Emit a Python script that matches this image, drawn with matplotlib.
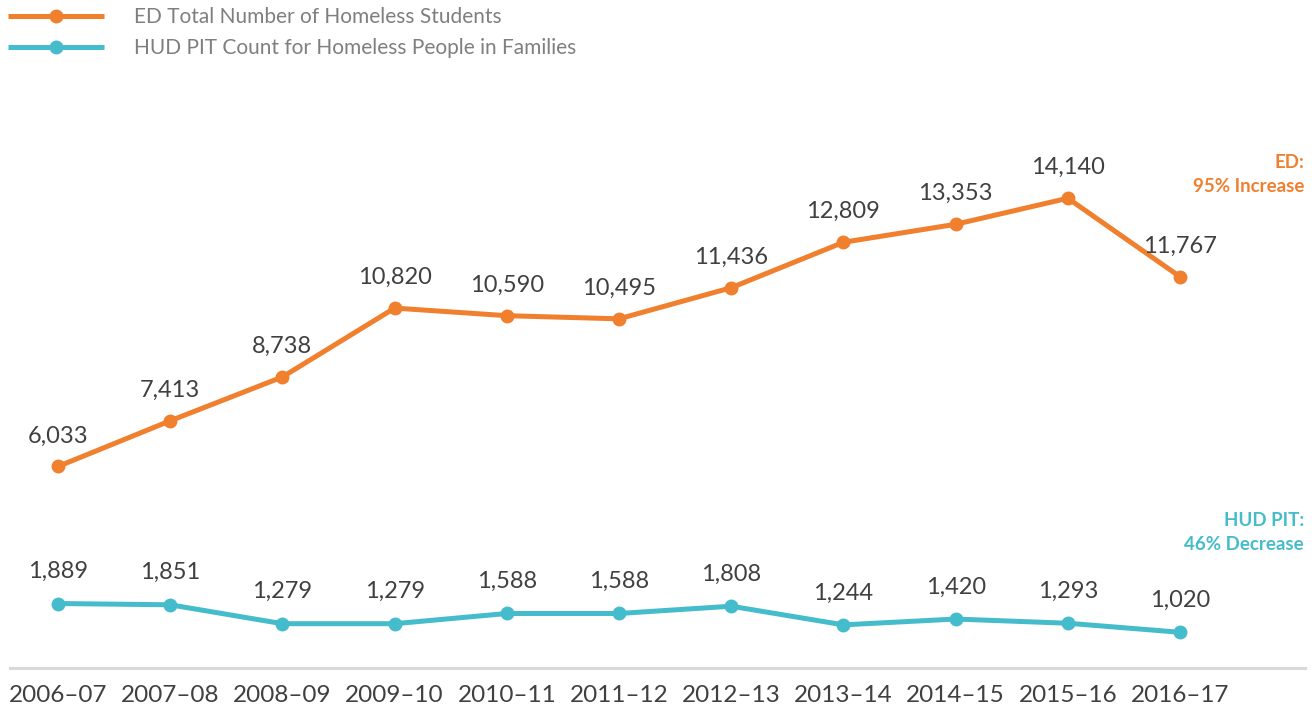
import matplotlib
matplotlib.use("Agg")
import matplotlib.pyplot as plt

plt.rcParams['font.family'] = ['Lato', 'DejaVu Sans']

years = ["2006–07", "2007–08", "2008–09", "2009–10", "2010–11", "2011–12",
         "2012–13", "2013–14", "2014–15", "2015–16", "2016–17"]
ed_students = [6033, 7413, 8738, 10820, 10590, 10495, 11436, 12809, 13353, 14140, 11767]
hud_families = [1889, 1851, 1279, 1279, 1588, 1588, 1808, 1244, 1420, 1293, 1020]

orange = "#F07F2E"
teal = "#45BCCB"
label_col = "#404040"

fig = plt.figure(figsize=(13.15, 7.09), dpi=100)
ax = fig.add_axes([10/1315, 1 - 668/709, 1295/1315, (668 - 140)/709])

x = list(range(len(years)))
ax.plot(x, ed_students, color=orange, lw=3.6, marker='o', ms=9,
        label="ED Total Number of Homeless Students", solid_capstyle='butt')
ax.plot(x, hud_families, color=teal, lw=3.6, marker='o', ms=9,
        label="HUD PIT Count for Homeless People in Families", solid_capstyle='butt')

# value labels above each point
for xi, v in zip(x, ed_students):
    ax.annotate(f"{v:,}", (xi, v), xytext=(0, 22), textcoords='offset points',
                ha='center', va='center', fontsize=17, color=label_col)
for xi, v in zip(x, hud_families):
    ax.annotate(f"{v:,}", (xi, v), xytext=(0, 23), textcoords='offset points',
                ha='center', va='center', fontsize=17, color=label_col)

ax.set_xlim(-0.428, 11.114)
ax.set_ylim(-60, 15901)

for s in ['top', 'right', 'left']:
    ax.spines[s].set_visible(False)
ax.spines['bottom'].set_color('#D9D9D9')
ax.spines['bottom'].set_linewidth(2.2)
ax.set_yticks([])
ax.set_xticks(x)
ax.set_xticklabels(years, fontsize=17.5, color=label_col)
ax.tick_params(axis='x', length=0, pad=12)

leg = ax.legend(loc='upper left', bbox_to_anchor=(8/1315, 1 - 7/709),
                bbox_transform=fig.transFigure, frameon=False, fontsize=15,
                handlelength=4.6, handletextpad=1.45, labelspacing=0.55,
                borderpad=0, borderaxespad=0, numpoints=1)
for t in leg.get_texts():
    t.set_color('#7F7F7F')

fig.text(1304/1315, 1 - 163/709, "ED:", ha='right', va='center',
         fontsize=13.5, fontweight='bold', color=orange)
fig.text(1304/1315, 1 - 186/709, "95% Increase", ha='right', va='center',
         fontsize=13.5, fontweight='bold', color=orange)
fig.text(1304/1315, 1 - 520/709, "HUD PIT:", ha='right', va='center',
         fontsize=13.5, fontweight='bold', color=teal)
fig.text(1304/1315, 1 - 545/709, "46% Decrease", ha='right', va='center',
         fontsize=13.5, fontweight='bold', color=teal)

fig.savefig("out.png", dpi=100)
